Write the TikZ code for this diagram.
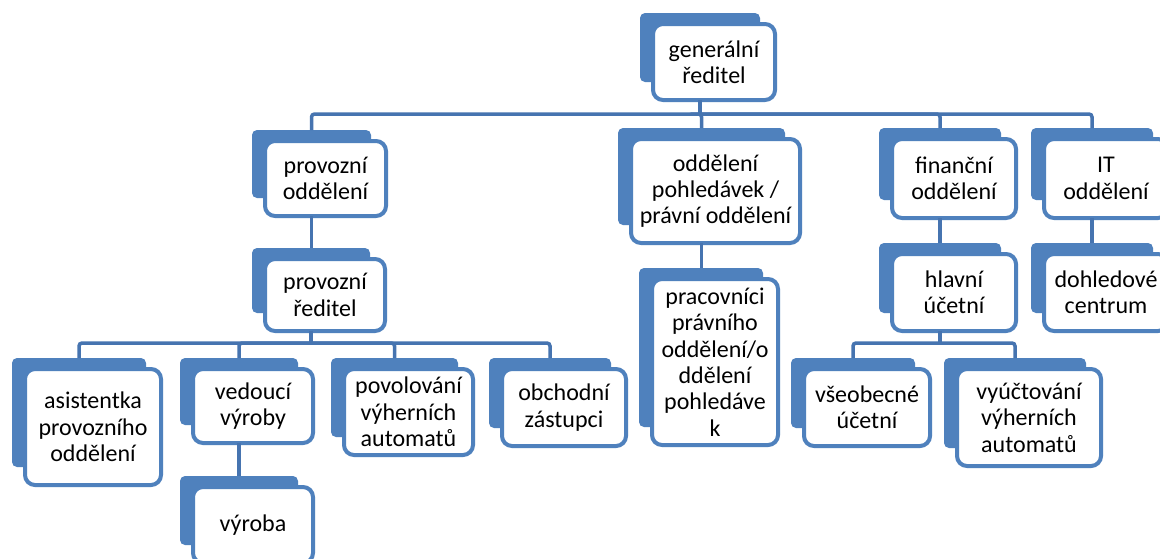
\documentclass[tikz,border=0pt]{standalone}
\usepackage{fontspec}
\setmainfont{Carlito}
\definecolor{backc}{RGB}{79,129,189}
\definecolor{connc}{RGB}{70,116,176}
\newcommand\orgbox[6]{%
  \fill[backc, rounded corners=2.5pt] ({#2-11},{#3-9}) rectangle ({#4-17},{#5-20});
  \node[frontbox, minimum width={(#4-#2-4)*0.5pt}, minimum height={(#5-#3-4)*0.5pt}] (#1) at ({(#2+#4)/2},{(#3+#5)/2}) {#6};
  \coordinate (#1-t) at ({(#2+#4)/2-14},{#3-9});
  \coordinate (#1-b) at ({(#2+#4)/2-14},{#5-2});
}
\tikzset{
  frontbox/.style={draw=backc, fill=white, line width=2pt, rounded corners=5pt,
    inner sep=0pt, align=center, font=\fontsize{12}{13.2}\selectfont},
  conn/.style={draw=connc, line width=1.75pt, rounded corners=1.5pt}
}
\begin{document}
\begin{tikzpicture}[x=0.5pt,y=-0.5pt]
\useasboundingbox (0,0) rectangle (1160,558);
\clip (0,0) rectangle (1160,558);
\fill[white] (0,0) rectangle (1160,558);
\orgbox{gen}{651}{22}{777}{102}{generální\\ředitel}
\orgbox{provod}{263}{139}{388}{218}{provozní\\oddělení}
\orgbox{provred}{263}{257}{387}{333}{provozní\\ředitel}
\orgbox{asist}{23}{367}{163}{487}{asistentka\\provozního\\oddělení}
\orgbox{vedouci}{191}{367}{315}{445}{vedoucí\\výroby}
\orgbox{vyroba}{191}{485}{315}{565}{výroba}
\orgbox{povol}{342}{367}{475}{457}{povolování\\výherních\\automatů}
\orgbox{obch}{500}{367}{628}{448}{obchodní\\zástupci}
\orgbox{pohl}{629}{137}{802}{245}{oddělení\\pohledávek /\\právní oddělení}
\orgbox{prac}{650}{277}{780}{447}{pracovníci\\právního\\oddělení/o\\ddělení\\pohledáve\\k}
\orgbox{fin}{890}{137}{1018}{220}{finanční\\oddělení}
\orgbox{it}{1042}{137}{1170}{220}{IT\\oddělení}
\orgbox{hlav}{890}{252}{1018}{333}{hlavní\\účetní}
\orgbox{dohl}{1042}{252}{1170}{333}{dohledové\\centrum}
\orgbox{vseob}{802}{367}{932}{448}{všeobecné\\účetní}
\orgbox{vyuct}{955}{367}{1103}{468}{vyúčtování\\výherních\\automatů}
% junctions
\coordinate (j1) at (700,114);
\coordinate (j2) at (311,343);
\coordinate (j3) at (940,343);
% connectors
\draw[conn] (gen-b) -- (gen-b |- j1);
\draw[conn] (provod-t) |- (j1) -| (it-t);
\draw[conn] (j1) -| (pohl-t);
\draw[conn] (j1) -| (fin-t);
\draw[conn] (provod-b) -- (provod-b |- provred-t);
\draw[conn] (provred-b) -- (provred-b |- j2);
\draw[conn] (asist-t) |- (j2) -| (obch-t);
\draw[conn] (j2) -| (vedouci-t);
\draw[conn] (j2) -| (povol-t);
\draw[conn] (vedouci-b) -- (vedouci-b |- vyroba-t);
\draw[conn] (pohl-b) -- (pohl-b |- prac-t);
\draw[conn] (fin-b) -- (fin-b |- hlav-t);
\draw[conn] (it-b) -- (it-b |- dohl-t);
\draw[conn] (hlav-b) -- (hlav-b |- j3);
\draw[conn] (vseob-t) |- (j3) -| (vyuct-t);
\end{tikzpicture}
\end{document}
